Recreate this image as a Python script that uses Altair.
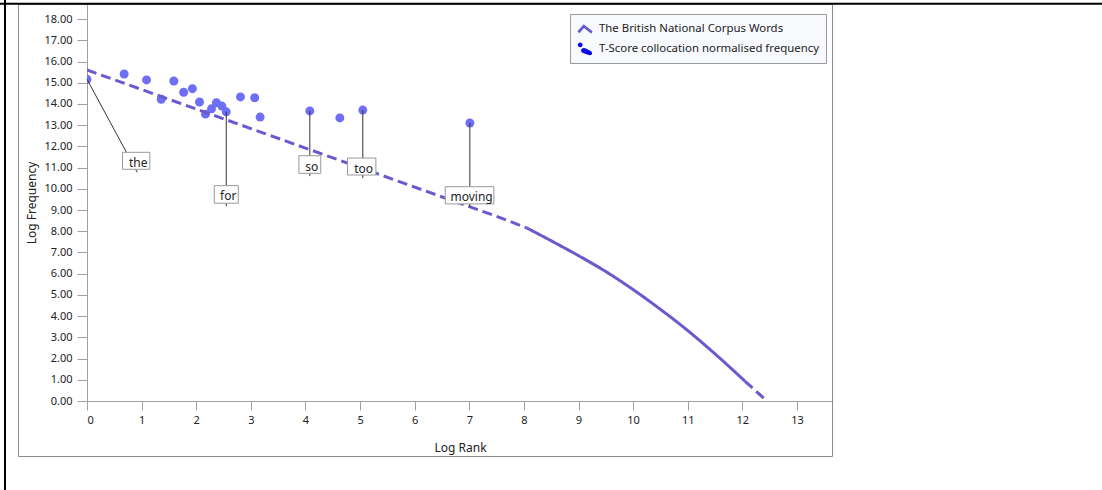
import altair as alt
import pandas as pd

# ---------------- values ----------------
series = ["The British National Corpus Words", "T-Score collocation normalised frequency"]

# T-Score collocation normalised frequency (scatter)
pt_x = [0.00, 0.68, 1.09, 1.36, 1.59, 1.77, 1.93, 2.06, 2.17, 2.28, 2.37, 2.47, 2.55,
        2.81, 3.07, 3.17, 4.08, 4.63, 5.05, 7.01]
pt_y = [15.16, 15.41, 15.13, 14.22, 15.08, 14.55, 14.72, 14.09, 13.52, 13.77, 14.06,
        13.90, 13.63, 14.33, 14.29, 13.38, 13.67, 13.34, 13.71, 13.10]

# The British National Corpus Words (fitted curve)
line_x = [0.0, 1.0, 2.0, 3.0, 4.0, 5.0, 6.0, 7.0, 7.5, 8.05,
          8.05, 8.5, 9.0, 9.5, 10.0, 10.5, 11.0, 11.5, 12.05,
          12.05, 12.45]
line_y = [15.60, 14.68, 13.76, 12.84, 11.92, 11.00, 10.08, 9.16, 8.70, 8.16,
          8.16, 7.55, 6.85, 6.10, 5.25, 4.32, 3.32, 2.22, 0.93,
          0.93, 0.00]
line_seg = ["a"] * 10 + ["b"] * 9 + ["c"] * 2

# annotated words
words = ["the", "for", "so", "too", "moving"]
word_x = [0.00, 2.55, 4.08, 5.05, 7.01]
word_y = [15.16, 13.63, 13.67, 13.71, 13.10]
anchor_x = [0.92, 2.55, 4.08, 5.05, 7.01]
anchor_y = [10.78, 9.18, 10.60, 10.50, 9.13]
box_left = [0.65, 2.33, 3.88, 4.77, 6.56]
box_right = [1.15, 2.77, 4.28, 5.29, 7.45]
box_top = [11.72, 10.15, 11.56, 11.45, 10.10]
box_bottom = [10.92, 9.32, 10.73, 10.65, 9.29]

x_ticks = list(range(0, 14))
y_ticks = list(range(0, 19))

# ---------------- tables ----------------
df_pts = pd.DataFrame({"x": pt_x, "y": pt_y})
df_line = pd.DataFrame({"x": line_x, "y": line_y, "seg": line_seg,
                        "order": list(range(len(line_x)))})
df_anno = pd.DataFrame({"word": words, "x": word_x, "y": word_y,
                        "ax": anchor_x, "ay": anchor_y,
                        "bl": box_left, "br": box_right,
                        "bt": box_top, "bb": box_bottom})
df_leg = pd.DataFrame({"series": series})

FONT = "Noto Sans"
GRAY = "#a0a0a0"
TXT = "#222222"

xs = alt.Scale(domain=[0, 13.66], nice=False, zero=False)
ys = alt.Scale(domain=[0, 18.71], nice=False, zero=False)

x_axis = alt.Axis(values=x_ticks, format="d", title="Log Rank", grid=False,
                  tickSize=9, labelPadding=4, domainColor=GRAY, tickColor=GRAY,
                  labelColor=TXT, labelFont=FONT, labelFontSize=11,
                  titleFont=FONT, titleFontSize=12, titleFontWeight="normal",
                  titleColor=TXT, titleY=46, titleBaseline="middle")
y_axis = alt.Axis(values=y_ticks, format=".2f", title="Log Frequency", grid=False,
                  tickSize=10, labelPadding=5, domainColor=GRAY, tickColor=GRAY,
                  labelColor=TXT, labelFont=FONT, labelFontSize=11,
                  titleFont=FONT, titleFontSize=12, titleFontWeight="normal",
                  titleColor=TXT, titleX=-56, titleY=198.5, titleAngle=270,
                  titleBaseline="middle", titleAlign="center")


def X(f):
    return alt.X(f, type="quantitative", scale=xs, axis=x_axis)


def Y(f):
    return alt.Y(f, type="quantitative", scale=ys, axis=y_axis)


one = alt.Data(values=[{"k": 1}])

# ---------------- frame decorations ----------------
frame = alt.Chart(one).mark_rect(fill="transparent", stroke="#8c8c8c", strokeWidth=1).encode(
    x=alt.value(-68.5), x2=alt.value(745.5), y=alt.value(0.5), y2=alt.value(452.5))
top_line = alt.Chart(one).mark_rule(color="black", strokeWidth=2).encode(
    x=alt.value(-87), x2=alt.value(1015), y=alt.value(-0.2))
left_line = alt.Chart(one).mark_rule(color="black", strokeWidth=2).encode(
    x=alt.value(-82), y=alt.value(-4), y2=alt.value(486))

# ---------------- data layers ----------------
points = alt.Chart(df_pts).mark_circle(size=80, color="#6e6ef7", opacity=1, clip=True).encode(
    x=X("x"), y=Y("y"))

curve = alt.Chart(df_line).mark_line(color="#6a5acd", strokeWidth=3, clip=True,
                                     interpolate="monotone").encode(
    x=X("x"), y=Y("y"),
    strokeDash=alt.StrokeDash("seg:N", scale=alt.Scale(domain=["a", "b", "c"],
                                                       range=[[10, 5], [1, 0], [10, 5]]),
                              legend=None),
    order="order:Q")

leaders = alt.Chart(df_anno).mark_rule(color="#333333", strokeWidth=1).encode(
    x=X("x"), y=Y("y"), x2="ax:Q", y2="ay:Q")

boxes = alt.Chart(df_anno).mark_rect(fill="white", stroke="#9a9a9a", strokeWidth=1).encode(
    x=X("bl"), x2="br:Q", y=Y("bt"), y2="bb:Q")

labels = alt.Chart(df_anno).transform_calculate(
    cx="(datum.bl + datum.br) / 2", cy="(datum.bt + datum.bb) / 2"
).mark_text(font=FONT, fontSize=12, color=TXT, dx=2, dy=2, baseline="middle", align="center").encode(
    x=X("cx"), y=Y("cy"), text="word:N")

# ---------------- legend (proxy layer, no visible marks) ----------------
chevron = "M-1,0.3L-0.17,-0.62L1,0.3L0.82,0.62L-0.13,-0.14L-0.72,0.56Z"
blob = ("M-0.95,-0.55A0.32,0.32,0,1,0,-0.31,-0.55A0.32,0.32,0,1,0,-0.95,-0.55Z"
        "M-0.5,0.05Q-0.2,-0.3,0.25,0.0L0.85,0.32Q1.1,0.78,0.6,0.82L0.0,0.62Q-0.65,0.45,-0.5,0.05Z")

leg = alt.Legend(title=None, orient="none", legendX=483, legendY=10,
                 fillColor="#f8f9fd", strokeColor="#9a9a9a", padding=7,
                 rowPadding=6, labelFont=FONT, labelFontSize=11.4, labelColor=TXT,
                 labelLimit=400, labelOffset=6, symbolSize=230, symbolStrokeWidth=0,
                 symbolOpacity=1)

legend_layer = alt.Chart(df_leg).transform_filter("false").mark_point(
    filled=True, size=230, opacity=1).encode(
    color=alt.Color("series:N", scale=alt.Scale(domain=series, range=["#6a5acd", "#0b0be6"]), legend=leg),
    shape=alt.Shape("series:N", scale=alt.Scale(domain=series, range=[chevron, blob]), legend=leg))

chart = alt.layer(
    frame, top_line, left_line, points, curve, leaders, boxes, labels, legend_layer
).properties(
    width=746, height=397,
    padding={"left": 87, "top": 4, "right": 269, "bottom": 89},
    autosize=alt.AutoSizeParams(type="none"),
    background="white",
).configure_view(stroke=None)

chart.save("out.html", embed_options={"renderer": "svg", "actions": False})
